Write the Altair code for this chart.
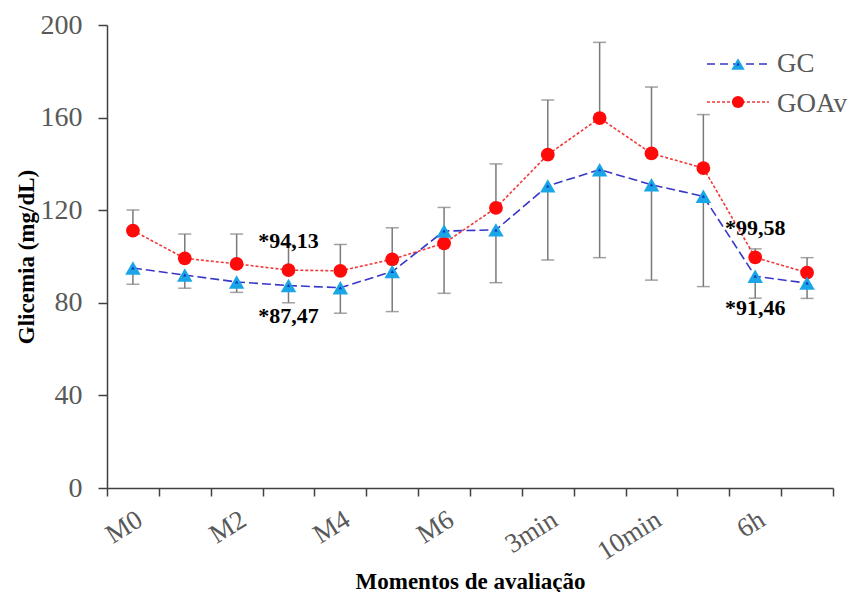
import altair as alt
import pandas as pd

# ---- data ----
momentos = ["M0", "M1", "M2", "M3", "M4", "M5", "M6",
            "1min", "3min", "5min", "10min", "30min", "6h", "24h"]
rotulos_visiveis = ["M0", "M2", "M4", "M6", "3min", "10min", "6h"]

gc_media = [95.0, 92.0, 89.0, 87.47, 86.5, 93.5, 111.0,
            111.5, 130.5, 137.5, 131.0, 126.0, 91.46, 88.5]
gc_inferior = [88.0, 86.3, 84.5, 80.0, 75.5, 76.2, 84.1,
               88.7, 98.5, 99.5, 89.8, 87.0, 82.0, 81.9]

goav_media = [111.2, 99.2, 96.8, 94.13, 93.8, 98.8, 105.7,
              121.0, 144.0, 159.8, 144.5, 138.2, 99.58, 93.0]
goav_superior = [120.1, 109.7, 109.7, 105.0, 105.2, 112.4, 121.2,
                 140.0, 167.6, 192.5, 173.2, 161.3, 103.3, 99.5]

notas_texto = ["*94,13", "*87,47", "*99,58", "*91,46"]
notas_momento = ["M3", "M3", "6h", "6h"]
notas_y = [103.7, 71.3, 109.3, 74.7]

series = ["GC", "GOAv"]

# ---- styling ----
SERIF = "Liberation Serif"
GREY_TXT = "#595959"
AXIS_C = "#404040"
BLUE_LINE = "#3636c8"
CYAN = "#1aa6e6"
RED_LINE = "#f03a3a"
RED = "#ff0a0a"
ERR_C = "#7a7a7a"

gc = pd.DataFrame({"momento": momentos, "media": gc_media, "fim": gc_inferior})
goav = pd.DataFrame({"momento": momentos, "media": goav_media, "fim": goav_superior})
notas = pd.DataFrame({"momento": notas_momento, "y": notas_y, "texto": notas_texto})
leg = pd.DataFrame({"serie": series})

label_expr = "indexof(" + str(rotulos_visiveis) + ", datum.value) >= 0 ? datum.label : ''"

x_enc = alt.X(
    "momento:N",
    sort=momentos,
    scale=alt.Scale(type="band", domain=momentos, paddingInner=0, paddingOuter=0),
    axis=alt.Axis(
        title="Momentos de avaliação",
        titleFont=SERIF, titleFontSize=23, titleFontWeight="bold", titleColor="black",
        titleX=363, titleY=100, titleBaseline="alphabetic", titleAlign="center",
        labelFont=SERIF, labelFontSize=27, labelColor=GREY_TXT,
        labelAngle=-32, labelAlign="right", labelBaseline="top", labelPadding=10,
        labelOverlap=False, labelExpr=label_expr,
        tickSize=8, tickWidth=1.5, tickColor=AXIS_C, tickBand="extent",
        domainColor=AXIS_C, domainWidth=1.5, grid=False,
    ),
)

y_scale = alt.Scale(domain=[0, 200], nice=False)
y_axis = alt.Axis(
    title="Glicemia (mg/dL)",
    titleFont=SERIF, titleFontSize=23, titleFontWeight="bold", titleColor="black",
    titleAngle=-90, titleX=-74, titleY=231.5, titleBaseline="alphabetic", titleAlign="center",
    values=[0, 40, 80, 120, 160, 200],
    labelFont=SERIF, labelFontSize=28, labelColor=GREY_TXT, labelPadding=16,
    tickSize=9, tickWidth=1.5, tickColor=AXIS_C,
    domainColor=AXIS_C, domainWidth=1.5, grid=False,
)

def y_enc(field):
    return alt.Y(field, scale=y_scale, axis=y_axis)

# error bars (GC downward, GOAv upward)
gc_err = alt.Chart(gc).mark_rule(color=ERR_C, strokeWidth=1.5).encode(
    x=x_enc, y=y_enc("media:Q"), y2="fim:Q")
gc_cap = alt.Chart(gc).mark_tick(color=ERR_C, thickness=1.5, size=13).encode(
    x=x_enc, y=y_enc("fim:Q"))
goav_err = alt.Chart(goav).mark_rule(color=ERR_C, strokeWidth=1.5).encode(
    x=x_enc, y=y_enc("media:Q"), y2="fim:Q")
goav_cap = alt.Chart(goav).mark_tick(color=ERR_C, thickness=1.5, size=13).encode(
    x=x_enc, y=y_enc("fim:Q"))

# lines
goav_line = alt.Chart(goav).mark_line(color=RED_LINE, strokeWidth=1.6, strokeDash=[3, 2]).encode(
    x=x_enc, y=y_enc("media:Q"))
gc_line = alt.Chart(gc).mark_line(color=BLUE_LINE, strokeWidth=1.6, strokeDash=[9, 4]).encode(
    x=x_enc, y=y_enc("media:Q"))

# markers
goav_pts = alt.Chart(goav).mark_point(shape="circle", filled=True, color=RED, size=190, opacity=1).encode(
    x=x_enc, y=y_enc("media:Q"))
gc_pts = alt.Chart(gc).mark_point(shape="triangle-up", filled=True, color=CYAN, size=240, opacity=1).encode(
    x=x_enc, y=y_enc("media:Q"))
gc_pts_in = alt.Chart(gc).mark_point(shape="triangle-up", filled=True, color="#1030c0", size=12, opacity=1).encode(
    x=x_enc, y=y_enc("media:Q"))

# annotations
notas_txt = alt.Chart(notas).mark_text(
    font=SERIF, fontSize=22, fontWeight="bold", color="black", align="center", baseline="alphabetic"
).encode(x=x_enc, y=y_enc("y:Q"), text="texto:N")

# legend (decoration, top-right)
leg_gc = alt.Chart(leg).transform_filter(alt.datum.serie == "GC")
leg_goav = alt.Chart(leg).transform_filter(alt.datum.serie == "GOAv")
leg_layers = [
    leg_gc.mark_rule(color=BLUE_LINE, strokeWidth=1.6, strokeDash=[8, 5]).encode(
        x=alt.value(600), x2=alt.value(662), y=alt.value(39)),
    leg_gc.mark_point(shape="triangle-up", filled=True, color=CYAN, size=180, opacity=1).encode(
        x=alt.value(631), y=alt.value(39)),
    leg_gc.mark_point(shape="triangle-up", filled=True, color="#1030c0", size=12, opacity=1).encode(
        x=alt.value(631), y=alt.value(39)),
    leg_gc.mark_text(font=SERIF, fontSize=27, color=GREY_TXT, align="left", baseline="alphabetic").encode(
        x=alt.value(670), y=alt.value(47), text="serie:N"),
    leg_goav.mark_rule(color=RED_LINE, strokeWidth=1.6, strokeDash=[3, 2]).encode(
        x=alt.value(600), x2=alt.value(662), y=alt.value(77)),
    leg_goav.mark_point(shape="circle", filled=True, color=RED, size=150, opacity=1).encode(
        x=alt.value(631), y=alt.value(77)),
    leg_goav.mark_text(font=SERIF, fontSize=27, color=GREY_TXT, align="left", baseline="alphabetic").encode(
        x=alt.value(670), y=alt.value(87), text="serie:N"),
]

chart = alt.layer(
    gc_err, gc_cap, goav_err, goav_cap,
    goav_line, gc_line,
    goav_pts, gc_pts, gc_pts_in,
    notas_txt,
    *leg_layers,
).properties(
    width=726, height=463,
    autosize=alt.AutoSizeParams(type="none"),
    padding={"left": 107, "top": 25, "right": 23, "bottom": 104},
    background="white",
).configure_view(stroke=None)

chart.save("out.html", embed_options={"renderer": "svg", "actions": False})
